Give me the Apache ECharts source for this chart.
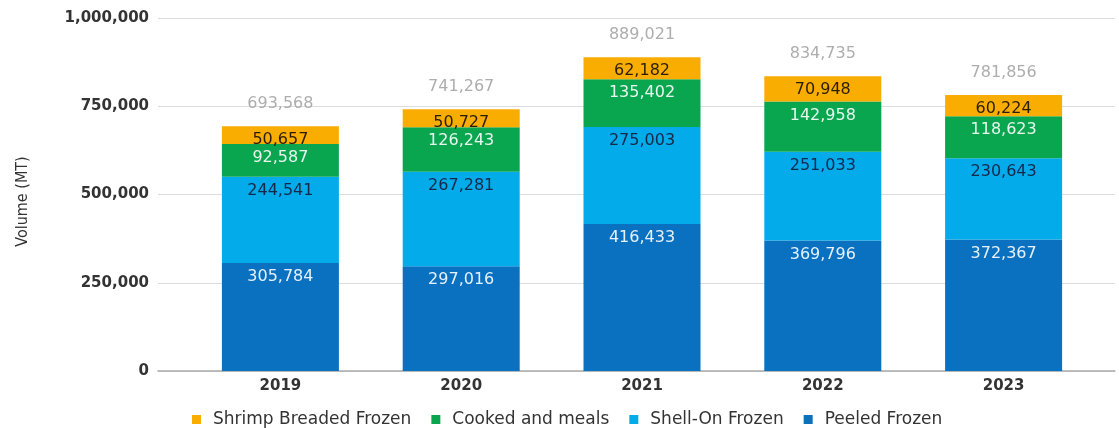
<!DOCTYPE html>
<html>
<head>
<meta charset="utf-8">
<script src="https://cdn.jsdelivr.net/npm/echarts@6/dist/echarts.min.js"></script>
<style>html,body{margin:0;padding:0;background:#fff;}#c{width:1119px;height:428px;}</style>
</head>
<body>
<div id="c"></div>
<script>
const years = ['2019', '2020', '2021', '2022', '2023'];
const peeledFrozen = [305784, 297016, 416433, 369796, 372367];
const shellOnFrozen = [244541, 267281, 275003, 251033, 230643];
const cookedMeals = [92587, 126243, 135402, 142958, 118623];
const breadedFrozen = [50657, 50727, 62182, 70948, 60224];
const totals = [693568, 741267, 889021, 834735, 781856];
const yTicks = [0, 250000, 500000, 750000, 1000000];

const fmt = v => Number(v).toLocaleString('en-US');
const labelFont = '"DejaVu Sans", sans-serif';
const axisFont = '"DejaVu Sans", sans-serif';

function seg(name, data, color, labelColor) {
  return {
    name, type: 'bar', stack: 'total', data,
    xAxisIndex: 0, yAxisIndex: 0,
    barWidth: 117,
    itemStyle: { color },
    label: {
      show: true, position: 'insideTop', distance: 6,
      color: labelColor, fontFamily: labelFont, fontSize: 16,
      formatter: p => fmt(p.value)
    },
    emphasis: { disabled: true }
  };
}

const chart = echarts.init(document.getElementById('c'));
chart.setOption({
  animation: false,
  grid: [
    { left: 190, right: 25, top: 18, bottom: 57 },
    { left: 158, right: 4, top: 18, bottom: 57 }
  ],
  xAxis: [
    { gridIndex: 0, type: 'category', data: years,
      axisLine: { show: false }, axisTick: { show: false },
      axisLabel: { color: '#333', fontFamily: axisFont, fontWeight: 'bold', fontSize: 15, margin: 8 } },
    { gridIndex: 1, type: 'category', data: [''],
      axisLine: { show: true, lineStyle: { color: '#aaa', width: 1.5 } },
      axisTick: { show: false }, axisLabel: { show: false } }
  ],
  yAxis: [
    { gridIndex: 0, type: 'value', min: 0, max: 1000000, interval: 250000,
      show: false, splitLine: { show: false } },
    { gridIndex: 1, type: 'value', min: yTicks[0], max: yTicks[yTicks.length - 1], interval: yTicks[1] - yTicks[0],
      axisLine: { show: false }, axisTick: { show: false },
      splitLine: { lineStyle: { color: '#ddd' } },
      axisLabel: { color: '#333', fontFamily: axisFont, fontWeight: 'bold', fontSize: 15, margin: 9, formatter: v => fmt(v) },
      name: 'Volume (MT)', nameLocation: 'middle', nameRotate: 90, nameGap: 127,
      nameTextStyle: { color: '#333', fontFamily: '"Liberation Sans Narrow", "DejaVu Sans Condensed", sans-serif', fontSize: 16, padding: [0, 14, 0, 0] } }
  ],
  legend: {
    data: ['Shrimp Breaded Frozen', 'Cooked and meals', 'Shell-On Frozen', 'Peeled Frozen'],
    bottom: -5, left: 187, icon: 'rect', itemWidth: 9, itemHeight: 9, itemGap: 20,
    textStyle: { color: '#333', fontFamily: axisFont, fontSize: 17, padding: [0, 0, 0, 7] }
  },
  series: [
    seg('Peeled Frozen', peeledFrozen, '#0A70C0', '#e6f1fb'),
    seg('Shell-On Frozen', shellOnFrozen, '#03ABEA', '#14284a'),
    seg('Cooked and meals', cookedMeals, '#0AA64F', '#e8f7ee'),
    seg('Shrimp Breaded Frozen', breadedFrozen, '#F9AD00', '#2b1e00'),
    {
      name: 'Total', type: 'scatter', data: totals,
      xAxisIndex: 0, yAxisIndex: 0, symbolSize: 1,
      itemStyle: { color: 'rgba(0,0,0,0)' },
      label: { show: true, position: 'top', distance: 14, color: '#999',
        fontFamily: labelFont, fontSize: 16, formatter: p => fmt(p.value) },
      emphasis: { disabled: true }, silent: true
    }
  ]
});
</script>
</body>
</html>
